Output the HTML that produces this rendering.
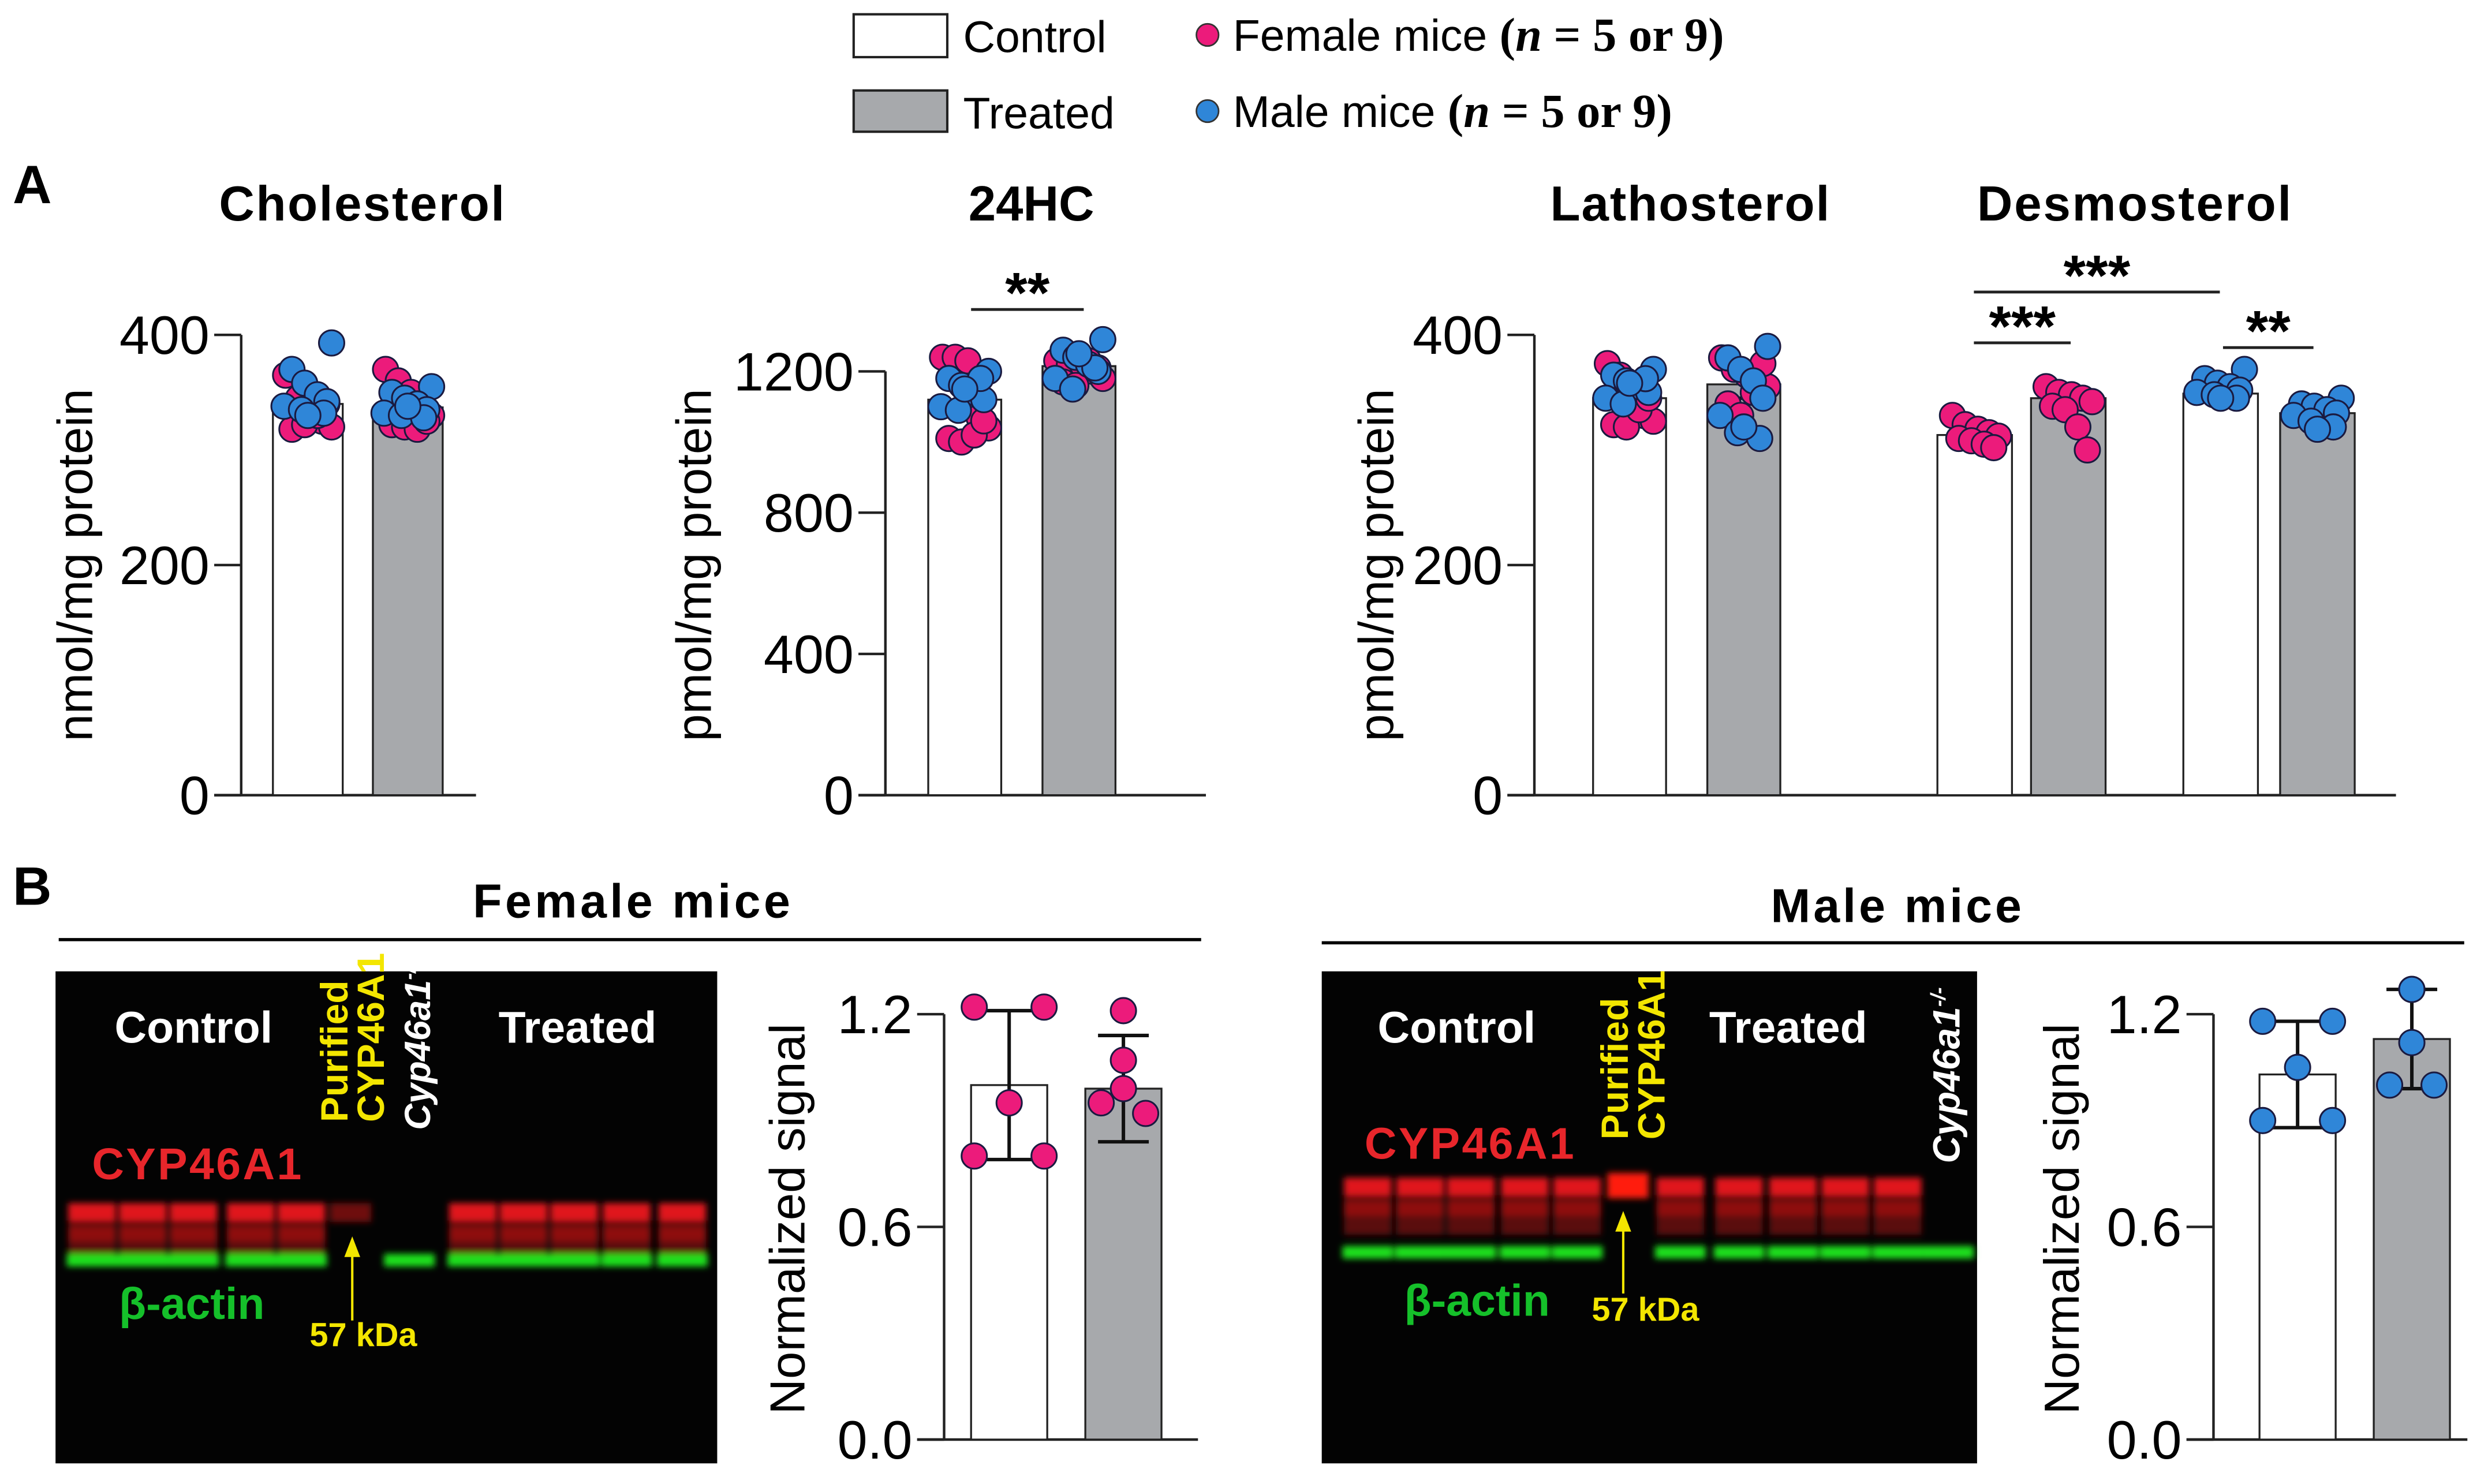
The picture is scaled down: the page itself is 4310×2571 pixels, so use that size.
<!DOCTYPE html>
<html><head><meta charset="utf-8"><style>
html,body{margin:0;padding:0;background:#fff;}
svg{display:block;}
text{font-family:"Liberation Sans",sans-serif;}
</style></head><body>
<svg id="fig" xmlns="http://www.w3.org/2000/svg" width="4310" height="2571" viewBox="0 0 1568 935" preserveAspectRatio="none">
<defs><filter id="blur" x="-20%" y="-50%" width="140%" height="200%"><feGaussianBlur stdDeviation="2"/></filter></defs>
<!-- Legend -->
<g>
  <rect x="538" y="9" width="59" height="27" fill="#fff" stroke="#222" stroke-width="1.5"/>
  <text x="607" y="33" font-size="28">Control</text>
  <rect x="538" y="57" width="59" height="26" fill="#a7a9ac" stroke="#222" stroke-width="1.5"/>
  <text x="607" y="81" font-size="28">Treated</text>
  <circle cx="761" cy="22" r="7" fill="#ec1b7b" stroke="#333" stroke-width="1"/>
  <text x="777" y="32" font-size="28">Female mice <tspan font-family="Liberation Serif,serif" font-weight="bold" font-size="30">(<tspan font-style="italic">n</tspan> = 5 or 9)</tspan></text>
  <circle cx="761" cy="70" r="7" fill="#2f86d8" stroke="#333" stroke-width="1"/>
  <text x="777" y="80" font-size="28">Male mice <tspan font-family="Liberation Serif,serif" font-weight="bold" font-size="30">(<tspan font-style="italic">n</tspan> = 5 or 9)</tspan></text>
</g>
<text x="8" y="128" font-size="34" font-weight="bold">A</text>
<text x="228" y="139" font-size="31" font-weight="bold" text-anchor="middle" textLength="180">Cholesterol</text>
<text x="650" y="139" font-size="31" font-weight="bold" text-anchor="middle">24HC</text>
<text x="1065" y="139" font-size="31" font-weight="bold" text-anchor="middle" textLength="176">Lathosterol</text>
<text x="1345" y="139" font-size="31" font-weight="bold" text-anchor="middle" textLength="198">Desmosterol</text>

<text x="8" y="570" font-size="34" font-weight="bold">B</text>
<text x="398" y="578" font-size="30" font-weight="bold" text-anchor="middle" textLength="200">Female mice</text>
<line x1="37" y1="592" x2="757" y2="592" stroke="#000" stroke-width="2"/>
<text x="1195" y="581" font-size="30" font-weight="bold" text-anchor="middle" textLength="158">Male mice</text>
<line x1="833" y1="594" x2="1553" y2="594" stroke="#000" stroke-width="2"/>

<g id="blots"></g>
<g id="charts"></g>
</svg>
<script>
// ---------- DATA ----------
const aCategories = ["Control","Treated"];
const cholFemale = [[365,345,335,325,320,318,322,330,340],[370,360,350,340,330,322,320,318,325]];
const cholMale   = [[393,370,358,348,342,338,335,332,330],[355,350,345,340,335,332,330,328,338]];
const cholMeans  = [340,337];
const cholErr    = [8,6];
const cholTicks  = [0,200,400];

const hcFemale = [[1240,1240,1230,1070,1040,1010,1000,1020,1060],[1230,1220,1220,1200,1180,1170,1160,1230,1210]];
const hcMale   = [[1200,1180,1160,1140,1120,1100,1090,1180,1150],[1290,1260,1240,1220,1200,1180,1150,1210,1250]];
const hcMeans  = [1120,1215];
const hcErr    = [30,18];
const hcTicks  = [0,400,800,1200];

const lathFemale = [[375,365,340,330,325,322,320,335,345],[380,370,365,360,355,340,330,350,375]];
const lathMale   = [[370,365,360,355,350,345,340,362,358],[390,380,370,360,345,330,315,310,320]];
const lathMeans  = [345,357];
const lathErr    = [5,12];
const desmFemale = [[330,322,318,315,312,310,308,305,302],[355,350,348,345,342,338,335,320,300]];
const desmMale   = [[370,362,358,355,352,350,348,345,345],[345,340,338,335,332,330,325,320,318]];
const desmFemaleMeans = [313,345];
const desmMaleMeans   = [349,332];
const desmFemaleErr = [4,10];
const desmMaleErr   = [3,4];
const sterolTicks = [0,200,400];

const bTicks = [0.0,0.6,1.2];
const wbFemale = [[1.22,1.22,0.95,0.80,0.80],[1.21,1.07,0.99,0.95,0.92]];
const wbFemaleMeans = [1.0,0.99];
const wbFemaleErr = [0.21,0.15];
const wbMale = [[1.18,1.18,1.05,0.90,0.90],[1.27,1.27,1.12,1.0,1.0]];
const wbMaleMeans = [1.03,1.13];
const wbMaleErr = [0.15,0.14];

// ---------- HELPERS ----------
const NS="http://www.w3.org/2000/svg";
const charts=document.getElementById('charts');
function mk(tag,attrs,parent){const e=document.createElementNS(NS,tag);for(const k in attrs)e.setAttribute(k,attrs[k]);(parent||charts).appendChild(e);return e;}
const PINK="#ec1b7b", BLUE="#2f86d8", GRAY="#a7a9ac";
const jitter=[-14,-6,2,9,15,-10,-2,6,12,-15,-4,10,0,-8,6,14,-12,3];

function axis(name,ax,y0,y1,vmax,ticks,fmt,xEnd,fs){
  const sc=v=>y0-(v/vmax)*(y0-y1);
  const g=mk('g',{});
  
  
  mk('line',{x1:ax,y1:y1,x2:ax,y2:y0,stroke:'#222','stroke-width':1.6},g);
  mk('line',{x1:ax-17,y1:y0,x2:xEnd,y2:y0,stroke:'#222','stroke-width':1.6},g);
  ticks.forEach(t=>{
    const y=sc(t);
    const tl=mk('line',{x1:ax-17,y1:y,x2:ax,y2:y,stroke:'#222','stroke-width':1.6},g);
    
    
    const tx=mk('text',{x:ax-20,y:y+12,'font-size':fs||34,'text-anchor':'end'},g);
    
    
    tx.textContent=fmt?fmt(t):t;
  });
  return sc;
}
function ylabel(name,x,y,txt){
  const t=mk('text',{x:0,y:0,'font-size':31,'text-anchor':'middle',transform:`translate(${x},${y}) rotate(-90)`});
  
  
  t.textContent=txt;
}
function bar(name,x,w,sc,v,fill){
  const r=mk('rect',{x:x,y:sc(v),width:w,height:sc(0)-sc(v),fill:fill,stroke:'#222','stroke-width':1.2});
  
  
}
function errbar(name,cx,sc,m,e,hw){
  const g=mk('g',{stroke:'#111','stroke-width':2.2});
  
  
  mk('line',{x1:cx,y1:sc(m+e),x2:cx,y2:sc(m-e)},g);
  mk('line',{x1:cx-hw,y1:sc(m+e),x2:cx+hw,y2:sc(m+e)},g);
  mk('line',{x1:cx-hw,y1:sc(m-e),x2:cx+hw,y2:sc(m-e)},g);
}
function dots(name,cx,sc,vals,color,off,r){
  vals.forEach((v,i)=>{
    const c=mk('circle',{cx:cx+jitter[(i+off)%jitter.length],cy:sc(v),r:r||8,fill:color,stroke:'#1a1a40','stroke-width':1.1});
    
    
  });
}
function sig(name,x1,x2,y,stars){
  const l=mk('line',{x1:x1,y1:y,x2:x2,y2:y,stroke:'#222','stroke-width':1.8});
  
  
  const t=mk('text',{x:(x1+x2)/2,y:y+2,'font-size':36,'font-weight':'bold','text-anchor':'middle'});
  
  
  t.textContent=stars;
}
function group(name,xs,w,sc,means,errs,fem,mal){
  xs.forEach((x,i)=>{
    bar(name+'-bar-'+aCategories[i].toLowerCase(),x,w,sc,means[i],i?GRAY:'#fff');
    const cx=x+w/2;
    errbar(name+'-error-bar-'+aCategories[i].toLowerCase(),cx,sc,means[i],errs[i],9);
    if(fem) dots(name+'-female-point',cx,sc,fem[i],PINK,0);
    if(mal) dots(name+'-male-point',cx,sc,mal[i],BLUE,4);
  });
}

// ---------- PANEL A ----------
let sc=axis('cholesterol',152,501,211,400,cholTicks,null,300);
ylabel('cholesterol-y-axis-title',58,356,'nmol/mg protein');
group('cholesterol',[172,235],44,sc,cholMeans,cholErr,cholFemale,cholMale);

sc=axis('24hc',558,501,234,1200,hcTicks,null,760);
ylabel('24hc-y-axis-title',448,356,'pmol/mg protein');
group('24hc',[585,657],46,sc,hcMeans,hcErr,hcFemale,hcMale);
sig('24hc-sig',612,683,195,'**');

sc=axis('sterol',967,501,211,400,sterolTicks,null,1510);
ylabel('sterol-y-axis-title',878,356,'pmol/mg protein');
group('lathosterol',[1004,1076],46,sc,lathMeans,lathErr,lathFemale,lathMale);
group('desmosterol-female',[1221,1280],47,sc,desmFemaleMeans,desmFemaleErr,desmFemale,null);
group('desmosterol-male',[1376,1437],47,sc,desmMaleMeans,desmMaleErr,null,desmMale);
sig('desmosterol-control-sig',1244,1399,184,'***');
sig('desmosterol-female-sig',1244,1305,216,'***');
sig('desmosterol-male-sig',1401,1458,219,'**');

// ---------- PANEL B charts ----------
const bOffsets=[[-22,22,0,-22,22],[0,0,0,-14,14]];
function wbChart(name,ax,xs,means,errs,vals,color){
  const s=axis(name,ax,907,639,1.2,bTicks,t=>t.toFixed(1),ax+160,34);
  xs.forEach((x,i)=>{
    bar(name+'-bar-'+aCategories[i].toLowerCase(),x,48,s,means[i],i?GRAY:'#fff');
    const cx=x+24;
    errbar(name+'-error-bar-'+aCategories[i].toLowerCase(),cx,s,means[i],errs[i],16);
    vals[i].forEach((v,j)=>{
      const c=mk('circle',{cx:cx+bOffsets[i][j],cy:s(v),r:8,fill:color,stroke:'#1a1a40','stroke-width':1.1});
      
      
    });
  });
}
wbChart('female-wb',595,[612,684],wbFemaleMeans,wbFemaleErr,wbFemale,PINK);
ylabel('female-wb-y-axis-title',507,768,'Normalized signal');
wbChart('male-wb',1395,[1424,1496],wbMaleMeans,wbMaleErr,wbMale,BLUE);
ylabel('male-wb-y-axis-title',1310,768,'Normalized signal');

// ---------- BLOTS ----------
const blots=document.getElementById('blots');
function bk(tag,attrs,parent){return mk(tag,attrs,parent||blots);}
function blot(name,x0,redLanes,redY,greenLanes,greenY,purX,purBright){
  const g=bk('g',{});
  
  
  bk('rect',{x:x0,y:612,width:name==='female-blot'?417:413,height:310,fill:'#030303'},g);
  const bands=bk('g',{filter:'url(#blur)'},g);
  redLanes.forEach(lx=>{
    bk('rect',{x:lx-15,y:redY+4,width:30,height:26,fill:'#5a0708'},bands);
    bk('rect',{x:lx-15,y:redY-6,width:30,height:11,fill:'#e0141a'},bands);
    bk('rect',{x:lx-15,y:redY+9,width:30,height:9,fill:'#8e0c10'},bands);
  });
  greenLanes.forEach(lx=>{
    bk('rect',{x:lx-16,y:greenY-4,width:32,height:8,fill:'#1fe01f'},bands);
  });
  bk('rect',{x:purX-13,y:redY-(purBright?9:6),width:26,height:purBright?16:12,fill:purBright?'#ff1a10':'#6e0a0a'},bands);
}
blot('female-blot',35,[58,90,122,158,190,298,330,362,395,430],764,[58,90,122,158,190,258,298,330,362,395,430],794,221,false);
blot('male-blot',833,[862,895,927,961,994,1059,1096,1130,1163,1196],748,[862,895,927,961,994,1059,1096,1130,1163,1196,1228],789,1026,true);

function bt(name,x,y,txt,attrs){
  const t=bk('text',Object.assign({x:x,y:y},attrs));
  
  
  t.innerHTML=txt;
}
const W={fill:'#fff','font-size':28,'font-weight':'bold','text-anchor':'middle'};
bt('female-blot-control-label',122,657,'Control',W);
bt('female-blot-treated-label',364,657,'Treated',W);
bt('female-blot-cyp46a1-label',58,743,'CYP46A1',{fill:'#e8262b','font-size':28,'font-weight':'bold',textLength:132});
bt('female-blot-actin-label',75,831,'β-actin',{fill:'#15c02a','font-size':28,'font-weight':'bold'});
bt('female-blot-kda-label',229,848,'57 kDa',{fill:'#f3e600','font-size':21,'font-weight':'bold','text-anchor':'middle'});
bt('female-blot-purified-label',0,0,'Purified',{fill:'#f3e600','font-size':24,'font-weight':'bold',transform:'translate(219,707) rotate(-90)'});
bt('female-blot-purified-cyp-label',0,0,'CYP46A1',{fill:'#f3e600','font-size':24,'font-weight':'bold',transform:'translate(242,707) rotate(-90)'});
bt('female-blot-ko-label',0,0,'Cyp46a1<tspan font-size="13" dy="-9">-/-</tspan>',{fill:'#fff','font-size':23,'font-weight':'bold','font-style':'italic',transform:'translate(271,712) rotate(-90)'});
bk('line',{x1:222,y1:832,x2:222,y2:786,stroke:'#f3e600','stroke-width':1.5});
bk('polygon',{points:'222,779 217,792 227,792',fill:'#f3e600'});

bt('male-blot-control-label',918,657,'Control',W);
bt('male-blot-treated-label',1127,657,'Treated',W);
bt('male-blot-cyp46a1-label',860,730,'CYP46A1',{fill:'#e8262b','font-size':28,'font-weight':'bold',textLength:132});
bt('male-blot-actin-label',885,829,'β-actin',{fill:'#15c02a','font-size':28,'font-weight':'bold'});
bt('male-blot-kda-label',1037,832,'57 kDa',{fill:'#f3e600','font-size':21,'font-weight':'bold','text-anchor':'middle'});
bt('male-blot-purified-label',0,0,'Purified',{fill:'#f3e600','font-size':24,'font-weight':'bold',transform:'translate(1026,718) rotate(-90)'});
bt('male-blot-purified-cyp-label',0,0,'CYP46A1',{fill:'#f3e600','font-size':24,'font-weight':'bold',transform:'translate(1049,718) rotate(-90)'});
bt('male-blot-ko-label',0,0,'Cyp46a1<tspan font-size="13" dy="-9">-/-</tspan>',{fill:'#fff','font-size':24,'font-weight':'bold','font-style':'italic',transform:'translate(1235,733) rotate(-90)'});
bk('line',{x1:1023,y1:815,x2:1023,y2:770,stroke:'#f3e600','stroke-width':1.5});
bk('polygon',{points:'1023,763 1018,776 1028,776',fill:'#f3e600'});
</script>
</body></html>
